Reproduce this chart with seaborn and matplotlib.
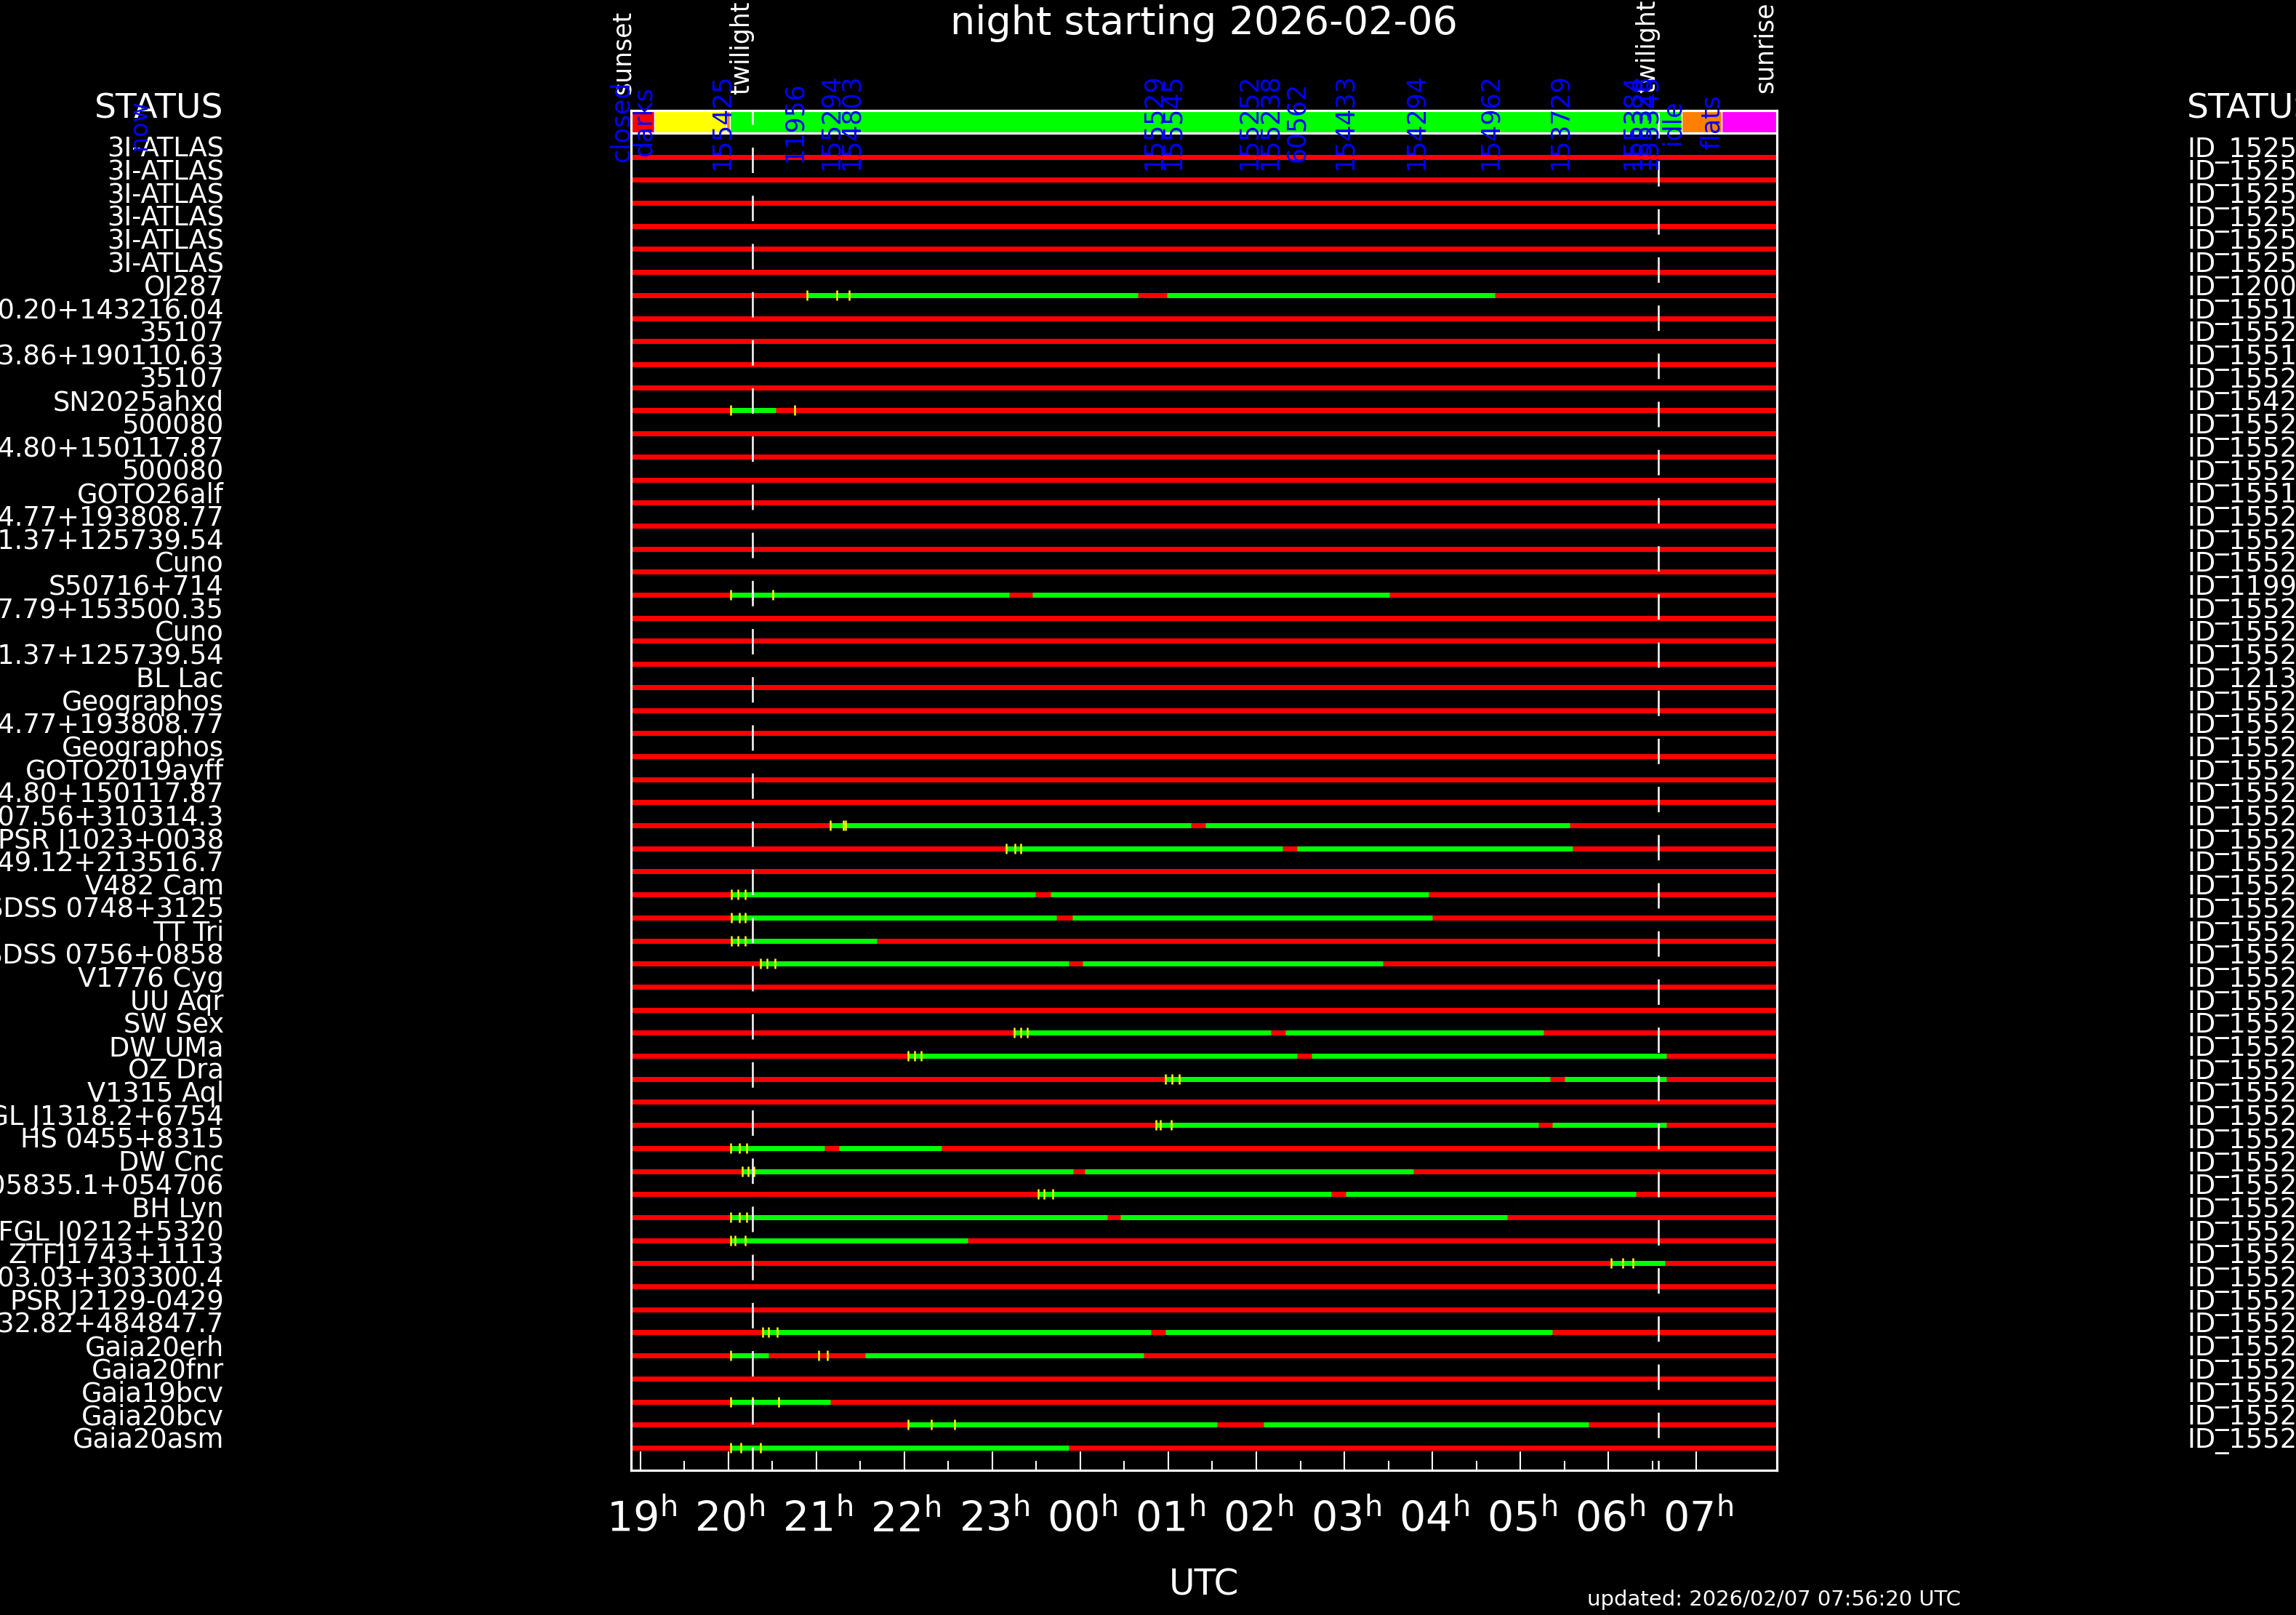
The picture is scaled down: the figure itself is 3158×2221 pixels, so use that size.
import numpy as np
import pandas as pd
import matplotlib
matplotlib.use("Agg")
import matplotlib.pyplot as plt
import matplotlib.transforms as mtransforms
import seaborn as sns

# ---------------- data ----------------
title_text = "night starting 2026-02-06"
updated_text = "updated: 2026/02/07 07:56:20 UTC"

# times in hours since 2026-02-06 00:00 UTC
sunset, sunrise = 18.893, 31.917
twilight_evening, twilight_morning = 20.273, 30.570

major_hours = list(range(19, 32))
hour_labels = ["19", "20", "21", "22", "23", "00", "01", "02", "03", "04", "05", "06", "07"]
minor_hours = [h + 0.5 for h in range(19, 31)]

# telescope status bar
status_start = [18.893, 19.157, 19.975, 20.017, 30.835, 31.289]
status_end = [19.157, 19.975, 20.017, 30.835, 31.289, 31.917]
status_color = ["#ff0000", "#ffff00", "#ff8000", "#00ff00", "#ff8000", "#ff00ff"]

# blue labels in the status bar
status_label_text = ["closed", "darks", "155425", "11956", "155294", "154803", "155529", "155545",
                     "155252", "155238", "60562", "154433", "154294", "154962", "153729",
                     "155384", "155328", "155345", "idle", "flats"]
status_label_time = [18.785, 19.041, 19.926, 20.752, 21.165, 21.397, 24.835, 25.050,
                     25.917, 26.157, 26.463, 27.008, 27.818, 28.661, 29.455,
                     30.281, 30.380, 30.463, 30.727, 31.182]

target_names = ["3I-ATLAS"] * 6 + [
    "OJ287", "J084100.20+143216.04", "35107", "J104103.86+190110.63", "35107",
    "SN2025ahxd", "500080", "J113524.80+150117.87", "500080", "GOTO26alf",
    "J114824.77+193808.77", "J120111.37+125739.54", "Cuno", "S50716+714",
    "J121047.79+153500.35", "Cuno", "J120111.37+125739.54", "BL Lac", "Geographos",
    "J114824.77+193808.77", "Geographos", "GOTO2019ayff", "J113524.80+150117.87",
    "J070007.56+310314.3", "PSR J1023+0038", "J083049.12+213516.7", "V482 Cam",
    "SDSS 0748+3125", "TT Tri", "SDSS 0756+0858", "V1776 Cyg", "UU Aqr", "SW Sex",
    "DW UMa", "OZ Dra", "V1315 Aql", "4FGL J1318.2+6754", "HS 0455+8315", "DW Cnc",
    "J005835.1+054706", "BH Lyn", "4FGL J0212+5320", "ZTFJ1743+1113",
    "J210003.03+303300.4", "PSR J2129-0429", "J214432.82+484847.7", "Gaia20erh",
    "Gaia20fnr", "Gaia19bcv", "Gaia20bcv", "Gaia20asm"]

target_ids = (["ID_1525"] * 6 + ["ID_1200", "ID_1551", "ID_1552", "ID_1551", "ID_1552",
              "ID_1542", "ID_1552", "ID_1552", "ID_1552", "ID_1551", "ID_1552", "ID_1552",
              "ID_1552", "ID_1199", "ID_1552", "ID_1552", "ID_1552", "ID_1213"]
              + ["ID_1552"] * 33)

# observable windows (row, start, end)
green_row = [6, 6, 11, 19, 19, 29, 29, 30, 30, 32, 32, 33, 33, 34, 35, 35, 38, 38, 39, 39,
             40, 40, 42, 42, 43, 43, 44, 44, 45, 45, 46, 46, 47, 48, 51, 51, 52, 52, 54,
             55, 55, 56]
green_start = [20.893, 24.983, 20.025, 20.025, 23.455, 21.157, 25.421, 23.160, 26.463,
               20.033, 23.661, 20.033, 23.906, 20.033, 20.360, 24.023, 23.244, 26.328,
               22.045, 26.630, 24.970, 29.504, 24.862, 29.362, 20.025, 21.256, 20.157,
               24.053, 23.521, 27.017, 20.025, 24.452, 20.025, 30.029, 20.391, 24.967,
               20.025, 21.556, 20.025, 22.040, 26.083, 20.029]
green_end = [24.653, 28.711, 20.537, 23.187, 27.512, 25.256, 29.562, 26.294, 29.595,
             23.488, 27.955, 23.730, 27.996, 21.684, 23.864, 27.435, 26.169, 29.262,
             26.463, 30.662, 29.337, 30.662, 29.204, 30.662, 21.091, 22.421, 23.920,
             27.781, 26.849, 30.311, 24.303, 28.847, 22.722, 30.645, 24.802, 29.364,
             20.455, 24.719, 21.157, 25.550, 29.779, 23.864]

# yellow markers (row, time)
tick_row = [6, 6, 6, 11, 11, 19, 19, 19, 29, 29, 29, 30, 30, 30, 32, 32, 32, 33, 33, 33,
            34, 34, 34, 35, 35, 35, 38, 38, 38, 39, 39, 39, 40, 40, 40, 42, 42, 42,
            43, 43, 43, 44, 44, 44, 45, 45, 45, 46, 46, 46, 47, 47, 47, 48, 48, 48,
            51, 51, 51, 52, 52, 52, 54, 54, 54, 55, 55, 55, 56, 56, 56]
tick_time = [20.893, 21.231, 21.372, 20.025, 20.756, 20.025, 20.273, 20.504,
             21.157, 21.306, 21.331, 23.160, 23.260, 23.320, 20.033, 20.109, 20.193,
             20.033, 20.124, 20.190, 20.033, 20.109, 20.190, 20.360, 20.436, 20.528,
             23.244, 23.319, 23.394, 22.045, 22.112, 22.188, 24.970, 25.045, 25.121,
             24.862, 24.913, 25.037, 20.025, 20.124, 20.207, 20.157, 20.223, 20.289,
             23.521, 23.587, 23.686, 20.025, 20.124, 20.207, 20.025, 20.074, 20.190,
             30.029, 30.162, 30.278, 20.391, 20.458, 20.558, 20.025, 21.025, 21.124,
             20.025, 20.273, 20.574, 22.040, 22.306, 22.570, 20.029, 20.139, 20.360]

# ---------------- style ----------------
sns.set_theme(style="dark", rc={
    "axes.facecolor": "black", "figure.facecolor": "black", "savefig.facecolor": "black",
    "text.color": "white", "xtick.color": "white", "ytick.color": "white",
    "axes.edgecolor": "white", "axes.grid": False,
})
plt.rcParams["font.family"] = ["DejaVu Sans"]
plt.rcParams["lines.scale_dashes"] = False
plt.rcParams["mathtext.fontset"] = "dejavusans"

W, H = 3158, 2221
fig = plt.figure(figsize=(W / 100, H / 100), dpi=100)
box_l, box_r, box_t, box_b = 868, 2444, 151.5, 2022
ax = fig.add_axes([box_l / W, 1 - box_b / H, (box_r - box_l) / W, (box_b - box_t) / H])
ax.set_facecolor("black")

n_rows = len(target_names)
rows = np.arange(n_rows)
y_top, y_bot = -2.025, 56.98
bar_top, bar_bottom = -2.025, -1.016

# status bar
for s, e, c in zip(status_start, status_end, status_color):
    ax.broken_barh([(s, e - s)], (bar_top, bar_bottom - bar_top), facecolors=c, zorder=1)
ax.axhline(bar_bottom, color="white", lw=2.3, zorder=6)

# red (not observable) lines
ax.hlines(rows, sunset, sunrise, color="#ff0000", lw=5.0, zorder=2)

# green windows with seaborn
gdf = pd.DataFrame({
    "t": np.concatenate([green_start, green_end]),
    "row": np.concatenate([green_row, green_row]),
    "seg": np.concatenate([np.arange(len(green_row)), np.arange(len(green_row))]),
})
gdf = gdf.sort_values(["seg", "t"])
sns.lineplot(data=gdf, x="t", y="row", units="seg", estimator=None, sort=False,
             color="#00ff00", linewidth=5.0, solid_capstyle="butt", ax=ax,
             legend=False, zorder=3)

# yellow markers with seaborn
tdf = pd.DataFrame({"t": tick_time, "row": tick_row})
sns.scatterplot(data=tdf, x="t", y="row", marker="|", s=95, color="#ffff00",
                linewidth=1.8, ax=ax, legend=False, zorder=4)

# twilight dashed lines
on_pt, off_pt = 35 * 0.72, 31.2 * 0.72
ax.plot([twilight_evening, twilight_evening], [y_top, y_bot], color="white", lw=1.8,
        linestyle=(15.7 * 0.72, (on_pt, off_pt)), zorder=5)
ax.plot([twilight_morning, twilight_morning], [y_top, y_bot], color="white", lw=1.8,
        linestyle=(63.4 * 0.72, (on_pt, off_pt)), zorder=5)

ax.set_xlim(sunset, sunrise)
ax.set_ylim(y_bot, y_top)
ax.set_xlabel("")
ax.set_ylabel("")
ax.set_yticks([])
for sp in ax.spines.values():
    sp.set_color("white")
    sp.set_linewidth(2.3)
    sp.set_zorder(8)

ax.set_xticks(major_hours)
ax.set_xticks(minor_hours, minor=True)
ax.set_xticklabels([])
ax.tick_params(axis="x", which="major", direction="in", length=18.7, width=1.5,
               color="white", top=True, bottom=True, labelbottom=False, labeltop=False)
ax.tick_params(axis="x", which="minor", direction="in", length=9.4, width=1.5,
               color="white", top=True, bottom=True)

xax = ax.get_xaxis_transform()
for h, lab in zip(major_hours, hour_labels):
    ax.annotate(lab + r"$^{\mathrm{h}}$", xy=(h, 0), xycoords=xax, xytext=(2, -85),
                textcoords="offset pixels", ha="center", va="baseline",
                fontsize=41, color="white", annotation_clip=False)
ax.annotate("UTC", xy=(0.5, 0), xycoords="axes fraction", xytext=(0, -171),
            textcoords="offset pixels", ha="center", va="baseline", fontsize=35,
            color="white")

# sunset / twilight / sunrise labels
for t, lab, dx, dy in [(sunset, "sunset", 6, 21.5), (twilight_evening, "twilight", 2, 21.5),
                       (twilight_morning, "twilight", 2, 23.5), (sunrise, "sunrise", 1, 23.5)]:
    ax.annotate(lab, xy=(t, 1), xycoords=xax, xytext=(dx, dy), textcoords="offset pixels",
                rotation=90, ha="right", va="bottom", fontsize=25, color="white",
                annotation_clip=False)

# blue status labels
for t, lab in zip(status_label_time, status_label_text):
    ax.text(t, (bar_top + bar_bottom) / 2, lab, rotation=90, ha="center", va="center",
            color="#0000ff", fontsize=25, zorder=9, clip_on=False)

# row labels
tl = mtransforms.blended_transform_factory(fig.transFigure, ax.transData)
for r, name, tid in zip(rows, target_names, target_ids):
    fig.text(308 / W, r, name, transform=tl, ha="right", va="baseline",
             fontsize=26.5, color="white")
    fig.text(3008 / W, r, tid, transform=tl, ha="left", va="baseline",
             fontsize=26.5, color="white")

fig.text(307 / W, 1 - 150 / H, "STATUS", ha="right", va="center", fontsize=34, color="white")
fig.text(3008 / W, 1 - 150 / H, "STATUS", ha="left", va="center", fontsize=34, color="white")
fig.text(191 / W, 1 - 171.5 / H, "now", rotation=90, ha="center", va="center",
         fontsize=24, color="#0000ff")

fig.text(1656 / W, 1 - 47 / H, title_text, ha="center", va="baseline", fontsize=39,
         color="white")
fig.text(2183 / W, 1 - 2208 / H, updated_text, ha="left", va="baseline", fontsize=21,
         color="white")

fig.savefig("out.png", dpi=100, facecolor="black")
